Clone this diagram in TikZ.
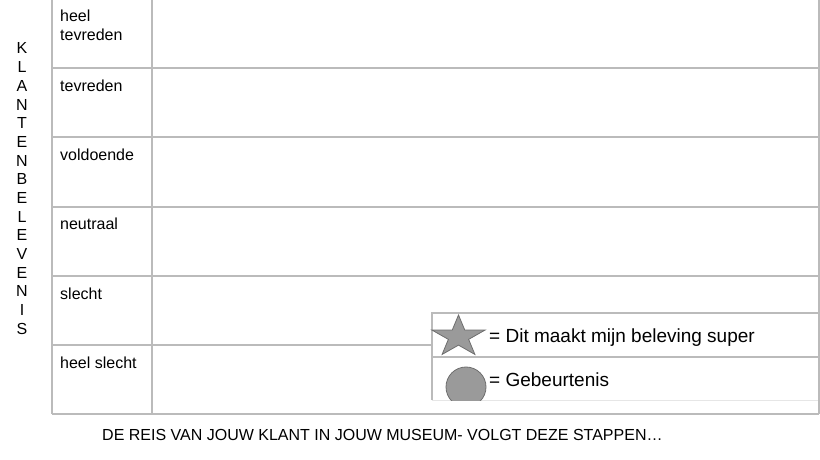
\documentclass[tikz,border=0pt]{standalone}
\usepackage{fontspec}
\setmainfont{Liberation Sans}
\usetikzlibrary{shapes.geometric,calc}
\definecolor{gridgray}{HTML}{BBBBBB}
\definecolor{faintgray}{HTML}{E6E6E6}
\definecolor{shapefill}{HTML}{9A9A9A}
\definecolor{shapeedge}{HTML}{6E6E6E}
\tikzset{
  gridline/.style={draw=gridgray, line width=1.2bp},
  rowlabel/.style={anchor=base west, inner sep=0pt, font=\fontsize{16bp}{19bp}\selectfont},
  sidelet/.style={anchor=base, inner sep=0pt, font=\fontsize{16bp}{17bp}\selectfont},
  legtext/.style={anchor=base west, inner sep=0pt, font=\fontsize{19bp}{22bp}\selectfont},
  symb/.style={fill=shapefill, draw=shapeedge, line width=0.8bp, inner sep=0pt, line join=miter}
}
\begin{document}
\begin{tikzpicture}[x=1bp,y=-1bp]
\useasboundingbox (0,0) rectangle (820,460);
% table grid
\foreach \yy in {68,137,207,276,345,414} {
  \draw[gridline] (52,\yy) -- (819,\yy);
}
\draw[gridline] (52,0) -- (52,414);
\draw[gridline] (152,0) -- (152,414);
\draw[gridline] (819,0) -- (819,414);
% row labels
\node[rowlabel] (r1a) at (60,22) {heel};
\node[rowlabel] (r1b) at (60,41) {tevreden};
\node[rowlabel] (r2) at (60,92) {tevreden};
\node[rowlabel] (r3) at (60,161) {voldoende};
\node[rowlabel] (r4) at (60,230) {neutraal};
\node[rowlabel] (r5) at (60,300) {slecht};
\node[rowlabel] (r6) at (60,369) {heel slecht};
% vertical word
\foreach \l [count=\i from 0] in {K,L,A,N,T,E,N,B,E,L,E,V,E,N,I,S} {
  \node[sidelet] (v\i) at (22,{54+18.67*\i}) {\l};
}
% legend box
\fill[white] (432,313) rectangle (819,400);
\draw[faintgray, line width=1bp] (432,400) -- (819,400);
\draw[gridline] (432,400) -- (432,313) -- (819,313);
\draw[gridline] (432,357) -- (819,357);
\draw[gridline] (819,313) -- (819,414);
% star (slightly flattened, as in the reference)
\coordinate (starc) at (458.5,336.8);
\draw[symb] ($(starc)+(0,-21.8)$)
  \foreach \k in {1,...,9} {
    -- ($(starc)+({(mod(\k,2)==0 ? 1 : 0.382)*27.9*cos(90+36*\k)},{-(mod(\k,2)==0 ? 1 : 0.382)*21.8*sin(90+36*\k)})$)
  } -- cycle;
\begin{scope}
  \clip (432,357) rectangle (819,400);
  \node[symb, ellipse, minimum width=40bp, minimum height=40bp] (ell) at (466,387) {};
\end{scope}
\node[legtext] (l1) at (489,343) {= Dit maakt mijn beleving super};
\node[legtext] (l2) at (489,387) {= Gebeurtenis};
% caption
\node[anchor=base west, inner sep=0pt, font=\fontsize{16bp}{19bp}\selectfont] (cap) at (102,440) {DE REIS VAN JOUW KLANT IN JOUW MUSEUM- VOLGT DEZE STAPPEN…};
\end{tikzpicture}
\end{document}
